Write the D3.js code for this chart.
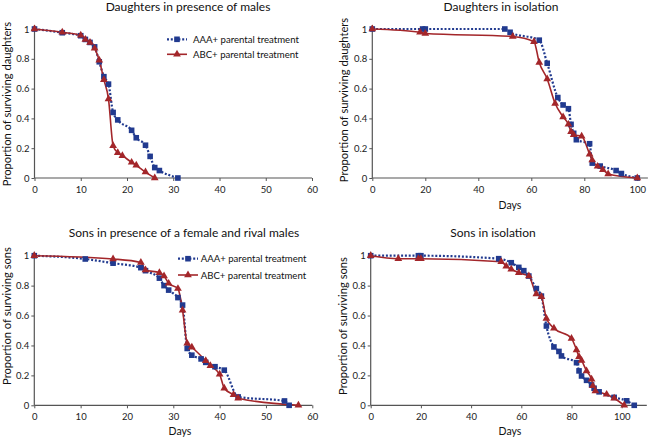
<!DOCTYPE html>
<html><head><meta charset="utf-8">
<script src="https://cdn.jsdelivr.net/npm/d3@7"></script>
<style>
body{margin:0;background:#fff;}
svg{font-family:Lato,"Open Sans",sans-serif;}
</style></head>
<body><svg id="c" width="650" height="438"></svg>
<script>
// ---- Data ----
const seriesNames = ["AAA+ parental treatment", "ABC+ parental treatment"];
const yTicks = [0, 0.2, 0.4, 0.6, 0.8, 1];
const xTicks60 = [0, 10, 20, 30, 40, 50, 60];
const xTicks100 = [0, 20, 40, 60, 80, 100];

// Daughters in presence of males
const dpmAAA_days = [0, 6, 10, 11, 12, 13, 14, 15, 16, 17, 18, 21, 22, 24, 25, 26, 27, 31];
const dpmAAA_surv = [1, 0.975, 0.955, 0.93, 0.91, 0.88, 0.78, 0.68, 0.63, 0.44, 0.39, 0.32, 0.27, 0.22, 0.145, 0.07, 0.05, 0];
const dpmABC_days = [0, 6, 10, 11, 12, 13, 14, 15, 16, 17, 18, 19, 21, 22, 24, 26];
const dpmABC_surv = [1, 0.978, 0.958, 0.93, 0.91, 0.87, 0.79, 0.66, 0.53, 0.217, 0.17, 0.15, 0.105, 0.085, 0.04, 0];

// Daughters in isolation
const diAAA_days = [0, 19, 20, 50, 52, 63, 66, 70, 72, 74, 75, 76, 77, 82, 83, 86, 92, 94, 100];
const diAAA_surv = [1, 1, 1, 1, 0.978, 0.925, 0.77, 0.54, 0.49, 0.465, 0.36, 0.30, 0.257, 0.23, 0.10, 0.08, 0.05, 0.03, 0];
const diABC_days = [0, 18, 20, 53, 61, 63, 66, 69, 72, 74, 75, 76, 79, 82, 83, 85, 87, 89, 100];
const diABC_surv = [1, 0.978, 0.97, 0.95, 0.915, 0.775, 0.665, 0.50, 0.41, 0.36, 0.31, 0.29, 0.28, 0.16, 0.12, 0.078, 0.056, 0.027, 0];

// Sons in presence of a female and rival males
const spmAAA_days = [0, 11, 17, 23, 24, 27, 28, 29, 31, 32, 33, 34, 36, 37, 39, 41, 44, 54, 55];
const spmAAA_surv = [1, 0.978, 0.95, 0.92, 0.90, 0.85, 0.80, 0.77, 0.72, 0.67, 0.38, 0.335, 0.31, 0.287, 0.258, 0.235, 0.056, 0.029, 0];
const spmABC_days = [0, 17, 23, 24, 27, 28, 29, 31, 32, 33, 34, 37, 38, 40, 41, 43, 44, 57];
const spmABC_surv = [1, 0.978, 0.955, 0.905, 0.886, 0.864, 0.815, 0.78, 0.635, 0.414, 0.388, 0.298, 0.265, 0.207, 0.114, 0.07, 0.047, 0];

// Sons in isolation
const siAAA_days = [0, 19, 20, 51, 56, 59, 61, 63, 66, 68, 70, 73, 75, 76, 82, 83, 84, 86, 88, 89, 91, 97, 102, 105];
const siAAA_surv = [1, 1, 1, 0.98, 0.953, 0.922, 0.90, 0.864, 0.78, 0.73, 0.53, 0.39, 0.36, 0.33, 0.285, 0.23, 0.196, 0.167, 0.136, 0.114, 0.09, 0.053, 0.03, 0];
const siABC_days = [0, 11, 19, 20, 52, 54, 56, 59, 63, 66, 68, 70, 73, 80, 82, 83, 84, 86, 88, 88.5, 89.5, 94, 97, 101];
const siABC_surv = [1, 0.98, 0.98, 0.98, 0.96, 0.93, 0.91, 0.886, 0.864, 0.744, 0.726, 0.58, 0.515, 0.447, 0.37, 0.325, 0.30, 0.23, 0.174, 0.13, 0.096, 0.073, 0.047, 0];

const panelTitles = ["Daughters in presence of males", "Daughters in isolation", "Sons in presence of a female and rival males", "Sons in isolation"];
const yLabels = ["Proportion of surviving daughters", "Proportion of surviving daughters", "Proportion of surviving sons", "Proportion of surviving sons"];

// ---- Layout ----
const panels = [
  {x0:34.5, xTickEnd:312, tickMax:60, dmax:60, ticks:xTicks60, yTop:29, yBot:178, title:[188,10.5], ylab:[6.5,104], days:null, legend:[167,193,39.3,54.3],
   data:[[dpmAAA_days,dpmAAA_surv],[dpmABC_days,dpmABC_surv]]},
  {x0:372.3, xTickEnd:637.3, tickMax:100, dmax:104, ticks:xTicks100, yTop:29, yBot:178, title:[501,10.5], ylab:[343,100], days:[510,205], legend:null,
   data:[[diAAA_days,diAAA_surv],[diABC_days,diABC_surv]]},
  {x0:34.3, xTickEnd:312.3, tickMax:60, dmax:60, ticks:xTicks60, yTop:255.7, yBot:405.3, title:[184,236.5], ylab:[6.5,316], days:[180,431], legend:[178,200.7,258.7,275],
   data:[[spmAAA_days,spmAAA_surv],[spmABC_days,spmABC_surv]]},
  {x0:370.7, xTickEnd:621.7, tickMax:100, dmax:110, ticks:xTicks100, yTop:255.7, yBot:405.3, title:[493,236.5], ylab:[342,326], days:[510,431], legend:null,
   data:[[siAAA_days,siAAA_surv],[siABC_days,siABC_surv]]}
];

const blue = "#213a8f", red = "#a3262a", axisCol = "#555";
const svg = d3.select("#c");

function drawMarker(g, type, x, y){
  if(type===0){
    g.append("rect").attr("x",x-2.8).attr("y",y-2.8).attr("width",5.6).attr("height",5.6).attr("fill",blue);
  } else {
    g.append("path").attr("d",d3.symbol(d3.symbolTriangle, 26)()).attr("transform",`translate(${x},${y})`).attr("fill",red);
  }
}

panels.forEach((p,i)=>{
  const g = svg.append("g");
  const x = d3.scaleLinear().domain([0,p.tickMax]).range([p.x0,p.xTickEnd]);
  const y = d3.scaleLinear().domain([0,1]).range([p.yBot,p.yTop]);
  const xEnd = x(p.dmax);

  // axes
  const xAxis = d3.axisBottom(x).tickValues(p.ticks).tickSize(3).tickSizeOuter(0).tickFormat(d3.format("d"));
  const xg = g.append("g").attr("transform",`translate(0,${p.yBot})`).call(xAxis);
  xg.select(".domain").remove();
  xg.append("line").attr("x1",p.x0).attr("x2",xEnd).attr("stroke",axisCol).attr("stroke-width",1.2);
  const yAxis = d3.axisLeft(y).tickValues(yTicks).tickSize(3).tickSizeOuter(0).tickFormat(d=>d===0?"0":d===1?"1":d3.format(".1f")(d));
  const yg = g.append("g").attr("transform",`translate(${p.x0},0)`).call(yAxis);
  yg.select(".domain").remove();
  yg.append("line").attr("y1",p.yTop-4).attr("y2",p.yBot).attr("stroke",axisCol).attr("stroke-width",1.2);
  [xg,yg].forEach(a=>{
    a.selectAll(".tick line").attr("stroke",axisCol);
    a.selectAll(".tick text").attr("fill","#222").style("font-size","9.5px").style("font-family","Lato,'Open Sans',sans-serif");
  });
  xg.selectAll(".tick text").attr("dy","0.9em");
  yg.selectAll(".tick text").attr("x",-5);

  // title
  g.append("text").attr("x",p.title[0]).attr("y",p.title[1]).attr("text-anchor","middle").attr("fill","#111").style("font-size","12px").text(panelTitles[i]);
  g.append("text").attr("transform",`translate(${p.ylab[0]},${p.ylab[1]}) rotate(-90)`).attr("text-anchor","middle").attr("dominant-baseline","central").attr("fill","#111").style("font-size","11.2px").text(yLabels[i]);
  if(p.days) g.append("text").attr("x",p.days[0]).attr("y",p.days[1]).attr("text-anchor","middle").attr("dominant-baseline","central").attr("fill","#111").style("font-size","10.5px").text("Days");

  // series
  const line = d3.line().x(d=>x(d[0])).y(d=>y(d[1])).curve(d3.curveMonotoneX);
  p.data.forEach((s,k)=>{
    const pts = s[0].map((d,j)=>[d,s[1][j]]);
    const path = g.append("path").datum(pts).attr("d",line).attr("fill","none")
      .attr("stroke",k===0?blue:red).attr("stroke-width",k===0?2.2:1.6);
    if(k===0) path.attr("stroke-dasharray","2,1.8");
  });
  p.data.forEach((s,k)=>{
    s[0].forEach((d,j)=>drawMarker(g,k,x(d),y(s[1][j])));
  });

  // legend
  if(p.legend){
    const [lx, tx, ly1, ly2] = p.legend;
    [ly1, ly2].forEach((ly,k)=>{
      const l = g.append("line").attr("x1",lx).attr("x2",lx+20).attr("y1",ly).attr("y2",ly)
        .attr("stroke",k===0?blue:red).attr("stroke-width",k===0?2.2:1.6);
      if(k===0) l.attr("stroke-dasharray","2,1.8");
      drawMarker(g,k,lx+10,ly);
      g.append("text").attr("x",tx).attr("y",ly).attr("dominant-baseline","central").attr("fill","#111").style("font-size","9.6px").text(seriesNames[k]);
    });
  }
});
</script></body></html>
